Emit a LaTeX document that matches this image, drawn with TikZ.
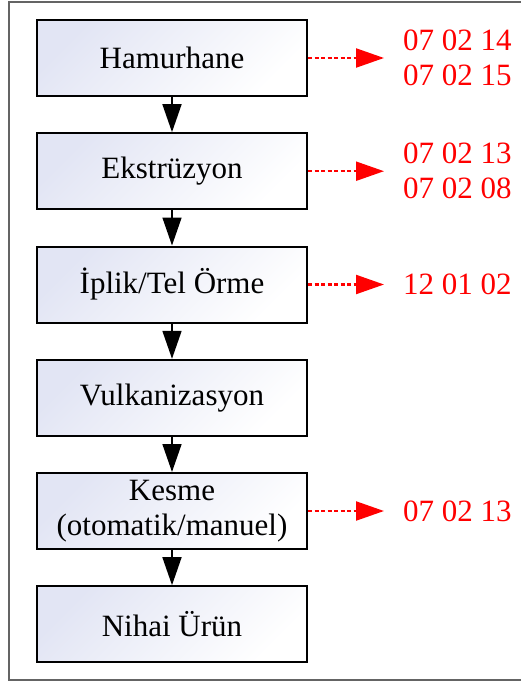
\documentclass[tikz,border=0pt]{standalone}
\usepackage{fontspec}
\setmainfont{Liberation Serif}
\usetikzlibrary{arrows.meta}
\definecolor{boxtint}{RGB}{226,229,244}
\definecolor{framegray}{RGB}{100,100,100}
\tikzset{
  procbox/.style={draw=black, line width=2pt, minimum width=270pt, minimum height=76pt,
    inner sep=0pt, align=center, top color=boxtint, bottom color=white, shading angle=45,
    font=\fontsize{31}{35}\selectfont},
  flow/.style={line width=1.6pt, -{Triangle[width=19pt,length=28pt]}},
  waste/.style={red, line width=2.2pt, dash pattern=on 4pt off 2.5pt, -{Triangle[width=19pt,length=28pt]}},
  codes/.style={anchor=west, red, align=left, inner sep=0pt, font=\fontsize{31}{35}\selectfont}
}
\begin{document}
\begin{tikzpicture}[x=1pt,y=-1pt]
\useasboundingbox (0,0) rectangle (521,682);
\draw[framegray, line width=1.3pt] (521,2) -- (9,2) -- (9,680) -- (521,680);
\node[procbox] (h) at (172,58) {Hamurhane};
\node[procbox] (e) at (172,171.2) {Ekstrüzyon};
\node[procbox] (i) at (172,284.5) {İplik/Tel Örme};
\node[procbox] (v) at (172,397.8) {Vulkanizasyon};
\node[procbox] (k) at (172,511) {Kesme\\(otomatik/manuel)};
\node[procbox] (n) at (172,624.2) {Nihai Ürün};
\draw[flow] (h.south) -- (e.north);
\draw[flow] (e.south) -- (i.north);
\draw[flow] (i.south) -- (v.north);
\draw[flow] (v.south) -- (k.north);
\draw[flow] (k.south) -- (n.north);
\coordinate (hc) at (384,58);
\coordinate (ec) at (384,171.2);
\coordinate (ic) at (384,284.5);
\coordinate (kc) at (384,511);
\draw[waste] (h.east) -- (hc);
\draw[waste] (e.east) -- (ec);
\draw[waste] (i.east) -- (ic);
\draw[waste] (k.east) -- (kc);
\node[codes] (th) at (403,58) {07 02 14\\07 02 15};
\node[codes] (te) at (403,171.2) {07 02 13\\07 02 08};
\node[codes] (ti) at (403,284.5) {12 01 02};
\node[codes] (tk) at (403,511) {07 02 13};
\end{tikzpicture}
\end{document}
